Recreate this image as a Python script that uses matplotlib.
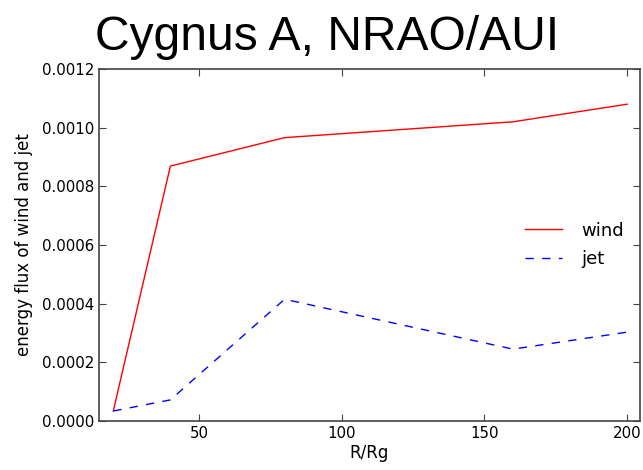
import matplotlib
matplotlib.use('Agg')
import matplotlib.pyplot as plt

# radius in units of Rg
R = [20, 40, 80, 160, 200]

# energy flux values
wind = [0.000034, 0.000869, 0.000966, 0.00102, 0.00108]
jet = [0.000034, 0.000072, 0.000415, 0.000245, 0.000303]

yticks = [0.0000, 0.0002, 0.0004, 0.0006, 0.0008, 0.0010, 0.0012]
xticks = [50, 100, 150, 200]

plt.rcParams['font.family'] = 'DejaVu Sans'
plt.rcParams['font.size'] = 10.8

fig = plt.figure(figsize=(6.43, 4.70), dpi=100)
ax = fig.add_axes([99 / 643, 49 / 470, 541 / 643, 352 / 470])

ax.plot(R, wind, color='red', linestyle='-', linewidth=1, label='wind')
ax.plot(R, jet, color='blue', linestyle='--', dashes=(6, 6), linewidth=1, label='jet')

ax.set_xlim(15, 204.5)
ax.set_ylim(0, 0.0012)
ax.set_xticks(xticks)
ax.set_yticks(yticks)
ax.set_yticklabels(['%.4f' % v for v in yticks])
ax.tick_params(direction='in', top=True, right=True, length=5, width=0.8,
               colors='#444444', labelcolor='black')
for s in ax.spines.values():
    s.set_color('#444444')
    s.set_linewidth(1.2)

ax.set_xlabel('R/Rg', fontsize=12, labelpad=2)
ax.set_ylabel('energy flux of wind and jet', fontsize=12, labelpad=6)

ax.legend(loc='center right', bbox_to_anchor=(1.0, 0.5), frameon=False,
          fontsize=13, handlelength=2.05, handletextpad=1.05, labelspacing=0.6)

fig.text(0.508, 0.893, 'Cygnus A, NRAO/AUI', family='Liberation Sans',
         fontsize=34.6, ha='center', va='baseline')

fig.savefig('out.png', dpi=100)
